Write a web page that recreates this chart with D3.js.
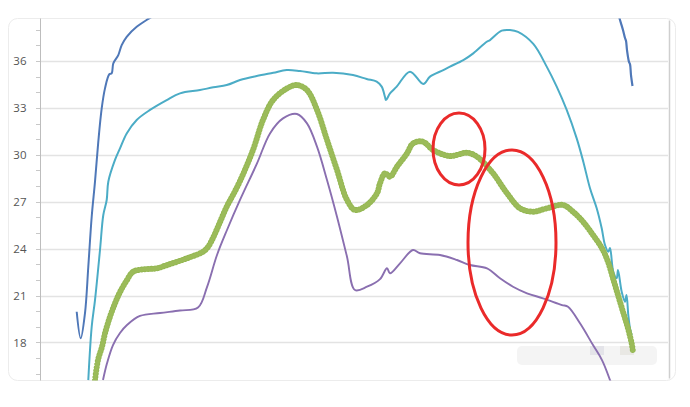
<!DOCTYPE html>
<html>
<head>
<meta charset="utf-8">
<script src="https://cdn.jsdelivr.net/npm/d3@7"></script>
<style>
  html, body { margin: 0; padding: 0; background: #fff; }
  svg { display: block; }
</style>
</head>
<body>
<svg id="chart" width="690" height="407"></svg>
<script>
// ---- data (x = sample index, y = temperature) ----
const yTicks = [18, 21, 24, 27, 30, 33, 36];

const seriesBlueA = [[36.7,19.96],[40.7,18.26],[45,19.88],[48.3,22.84],[51.7,26.04],[55,28.28],[58.3,30.84],[61.7,32.97],[65,34.25],[69.3,35.15],[71.7,35.21],[73.3,35.85],[78.3,36.38],[81.7,37.02],[86.7,37.55],[96.7,38.19],[108.3,38.69],[120,39.13]];
const seriesBlueB = [[578,39.13],[580,38.62],[582,38.2],[583,37.98],[585,37.47],[586,37.3],[587,36.7],[589,35.94],[590,35.8],[591,35.1],[592.5,34.4]];

const seriesCyan = [[48.3,15.59],[51.7,19.0],[55,20.71],[60,23.91],[63.3,26.15],[66.7,27.11],[68.3,28.28],[75,29.67],[80,30.41],[86.7,31.37],[96.7,32.23],[110,32.87],[126.7,33.5],[140,33.93],[160,34.14],[173.3,34.32],[186.7,34.46],[200,34.78],[216.7,35.04],[233.3,35.25],[246.7,35.42],[260,35.36],[276.7,35.21],[293,35.25],[313,35.1],[326.7,34.85],[336.7,34.68],[341.7,34.36],[345,33.7],[346,33.5],[350,33.93],[356.7,34.36],[370,35.32],[383.3,34.53],[390,35.0],[403.3,35.42],[410,35.64],[423.3,36.06],[433.3,36.49],[446.7,37.23],[450,37.34],[461.7,37.94],[470,37.98],[478,37.86],[493.3,37.09],[506.7,35.64],[516.7,34.36],[526.7,32.87],[536.7,31.05],[543.3,29.56],[550,27.86],[556.7,26.58],[561.7,25.3],[565,24.23],[568.3,23.8],[570,24.04],[573.3,22.52],[576.7,22.1],[578,22.63],[581.7,21.24],[585,20.6],[586.5,21.03],[588.3,19.75],[590,18.9],[591.7,18.47]];

const seriesGreen = [[55,15.59],[58,16.87],[62,17.72],[65,18.58],[70,19.64],[75,20.5],[80,21.22],[87,21.99],[93,22.52],[103,22.67],[117,22.74],[127,22.95],[147,23.38],[163,23.8],[168,24.1],[173,24.68],[180,25.7],[187,26.72],[193,27.43],[200,28.32],[213,30.31],[223,32.23],[233,33.5],[247,34.25],[257,34.46],[267,34.14],[277,32.87],[287,30.95],[297,29.03],[307,27.11],[315,26.47],[327,26.79],[337,27.54],[340,28.18],[345,28.82],[350,28.6],[357,29.24],[367,30.09],[373,30.73],[383,30.84],[393,30.31],[410,29.92],[427,30.13],[437,29.88],[453,28.82],[467,27.54],[480,26.58],[493,26.36],[507,26.58],[523,26.79],[533,26.36],[543,25.72],[553,24.87],[562,24.02],[568,23.16],[573,22.1],[578,21.03],[583,19.96],[588,18.9],[592,17.83],[593,17.38]];

const seriesPurple = [[63,15.59],[67,16.66],[73,17.83],[80,18.6],[87,19.11],[100,19.69],[120,19.88],[140,20.04],[158,20.23],[167,21.54],[177,23.59],[187,25.19],[200,27.11],[217,29.45],[230,31.37],[243,32.33],[257,32.61],[267,32.01],[277,30.52],[287,28.39],[297,26.04],[307,23.48],[315,21.35],[327,21.56],[340,22.05],[347,22.74],[350,22.42],[360,23.06],[373,23.91],[380,23.7],[400,23.59],[417,23.27],[430,22.95],[447,22.74],[460,22.1],[473,21.56],[487,21.14],[503,20.82],[522,20.39],[528,20.28],[540,19.22],[553,17.83],[562,16.87],[570,15.59],[575,14.63]];

// annotation ellipses: [cx, cy, rx (x units), ry (y units)]
const ellipses = [[419, 30.37, 26, 2.30], [472, 24.39, 44, 5.92]];

// ---- drawing ----
const svg = d3.select("#chart");
const x = d3.scaleLinear().domain([0, 630]).range([40, 670]);
const y = d3.scaleLinear().domain([18, 36]).range([342.4, 61]);

const card = { l: 8.5, t: 18.5, r: 675.5, b: 380.5 };

svg.append("defs").append("clipPath").attr("id", "clip")
  .append("rect").attr("x", 40).attr("y", card.t).attr("width", 630).attr("height", card.b - card.t);

svg.append("rect")
  .attr("x", card.l).attr("y", card.t)
  .attr("width", card.r - card.l).attr("height", card.b - card.t)
  .attr("rx", 9).attr("fill", "#fff").attr("stroke", "#ececec");

// gridlines
svg.append("g").selectAll("line").data(yTicks).join("line")
  .attr("x1", 40).attr("x2", 668)
  .attr("y1", d => Math.round(y(d)) + 0.5).attr("y2", d => Math.round(y(d)) + 0.5)
  .attr("stroke", "#e3e3e3").attr("stroke-width", 1.3);

// y axis
const axis = d3.axisLeft(y).tickValues(yTicks).tickSize(0).tickPadding(14);
const ga = svg.append("g").attr("transform", "translate(40.5,0)").call(axis);
ga.select(".domain").remove();
ga.selectAll("text").attr("font-family", "'Open Sans', 'Noto Sans', sans-serif")
  .attr("font-size", 11.5).attr("fill", "#555");
svg.append("line").attr("x1", 40.5).attr("x2", 40.5).attr("y1", card.t).attr("y2", card.b)
  .attr("stroke", "#bdbdbd");
svg.append("g").selectAll("line").data(d3.range(16, 39)).join("line")
  .attr("x1", 36).attr("x2", 40)
  .attr("y1", d => Math.round(y(d)) + 0.5).attr("y2", d => Math.round(y(d)) + 0.5)
  .attr("stroke", "#c8c8c8");
// right border line
svg.append("line").attr("x1", 669.5).attr("x2", 669.5).attr("y1", card.t + 2).attr("y2", card.b - 2)
  .attr("stroke", "#cfcfcf").attr("stroke-width", 1.5);

// watermark blur
const wm = svg.append("g").attr("opacity", 0.22);
wm.append("rect").attr("x", 517).attr("y", 346).attr("width", 140).attr("height", 19).attr("rx", 5).attr("fill", "#cfcfcf");
wm.append("rect").attr("x", 590).attr("y", 346).attr("width", 14).attr("height", 9).attr("fill", "#8a8aa0");
wm.append("rect").attr("x", 620).attr("y", 346).attr("width", 14).attr("height", 9).attr("fill", "#a09a8a");

const plot = svg.append("g").attr("clip-path", "url(#clip)");
const line = d3.line().x(d => x(d[0])).y(d => y(d[1])).curve(d3.curveCatmullRom.alpha(0.5));

plot.append("path").datum(seriesCyan).attr("d", line)
  .attr("fill", "none").attr("stroke", "#4bacc6").attr("stroke-width", 2).attr("stroke-linejoin", "round");
plot.append("path").datum(seriesBlueA).attr("d", line)
  .attr("fill", "none").attr("stroke", "#4f78b8").attr("stroke-width", 2).attr("stroke-linejoin", "round");
plot.append("path").datum(seriesBlueB).attr("d", line)
  .attr("fill", "none").attr("stroke", "#4f78b8").attr("stroke-width", 2.2).attr("stroke-linejoin", "round");
plot.append("path").datum(seriesPurple).attr("d", line)
  .attr("fill", "none").attr("stroke", "#8a6fb0").attr("stroke-width", 1.9).attr("stroke-linejoin", "round");
// red series under the green markers
plot.append("path").datum(seriesGreen).attr("d", line)
  .attr("fill", "none").attr("stroke", "#d0605a").attr("stroke-width", 1.5);
plot.append("path").datum(seriesGreen).attr("d", line)
  .attr("fill", "none").attr("stroke", "#93b752").attr("stroke-width", 6)
  .attr("stroke-linecap", "round").attr("stroke-linejoin", "round")
  .attr("stroke-dasharray", "0.01 3.2");
plot.append("path").datum(seriesGreen).attr("d", line)
  .attr("fill", "none").attr("stroke", "#9bbb59").attr("stroke-width", 4)
  .attr("stroke-linejoin", "round");

// annotation ellipses
svg.append("g").selectAll("ellipse").data(ellipses).join("ellipse")
  .attr("cx", d => x(d[0])).attr("cy", d => y(d[1]))
  .attr("rx", d => x(d[2]) - x(0)).attr("ry", d => y(0) - y(d[3]))
  .attr("fill", "none").attr("stroke", "#ea2a2a").attr("stroke-width", 3);
</script>
</body>
</html>
